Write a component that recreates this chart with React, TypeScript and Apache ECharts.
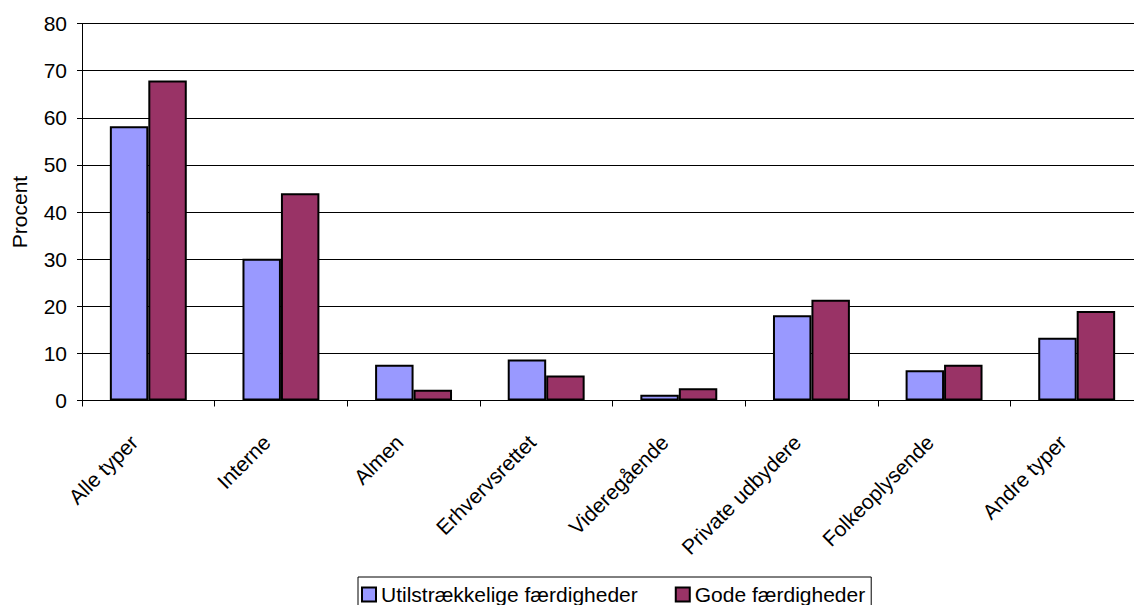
import React, { useEffect, useRef } from "react";
import * as echarts from "echarts";

const categories = [
  "Alle typer",
  "Interne",
  "Almen",
  "Erhvervsrettet",
  "Videregående",
  "Private udbydere",
  "Folkeoplysende",
  "Andre typer",
];
const seriesNames = ["Utilstrækkelige færdigheder", "Gode færdigheder"];
const utilstraekkelige = [58.2, 30.1, 7.6, 8.7, 1.2, 18.1, 6.4, 13.3];
const gode = [67.9, 44.0, 2.3, 5.3, 2.6, 21.4, 7.6, 19.0];
const colors = ["#9999FF", "#993366"];

const FONT = "Liberation Sans, Arial, sans-serif";
const FS = 21;

export default function App() {
  const ref = useRef<HTMLDivElement>(null);
  useEffect(() => {
    if (!ref.current) return;
    const chart = echarts.init(ref.current, null, { renderer: "svg" });
    chart.setOption({
      animation: false,
      backgroundColor: "#ffffff",
      textStyle: { fontFamily: FONT, color: "#000" },
      grid: {
        left: 82,
        right: 17,
        top: 23.5,
        bottom: 204.5,
        containLabel: false,
        outerBoundsMode: "none",
      },
      legend: {
        left: 358,
        top: 577,
        orient: "horizontal",
        borderColor: "#000",
        borderWidth: 1,
        padding: [7, 6, 7, 3],
        itemGap: 37,
        itemWidth: 14,
        itemHeight: 14,
        icon: "rect",
        textStyle: { fontFamily: FONT, fontSize: FS, color: "#000" },
        data: seriesNames,
      },
      xAxis: {
        type: "category",
        data: categories,
        boundaryGap: true,
        axisLine: { show: true, lineStyle: { color: "#000", width: 1 } },
        axisTick: { show: true, length: 6, lineStyle: { color: "#000" } },
        axisLabel: {
          rotate: 45,
          margin: 24,
          padding: [0, 20, 0, 0],
          fontSize: FS,
          fontFamily: FONT,
          color: "#000",
          interval: 0,
        },
        splitLine: { show: false },
      },
      yAxis: {
        type: "value",
        min: 0,
        max: 80,
        interval: 10,
        name: "Procent",
        nameLocation: "middle",
        nameRotate: 90,
        nameGap: 52,
        nameTextStyle: { fontFamily: FONT, fontSize: FS, color: "#000" },
        axisLine: { show: true, lineStyle: { color: "#000", width: 1 } },
        axisTick: { show: true, length: 5, inside: false, lineStyle: { color: "#000" } },
        axisLabel: { fontSize: FS, fontFamily: FONT, color: "#000", margin: 15 },
        splitLine: { show: true, lineStyle: { color: "#000", width: 1 } },
      },
      series: [
        {
          name: seriesNames[0],
          type: "bar",
          data: utilstraekkelige,
          barGap: "0%",
          barCategoryGap: "42%",
          itemStyle: { color: colors[0], borderColor: "#000", borderWidth: 2 },
        },
        {
          name: seriesNames[1],
          type: "bar",
          data: gode,
          barGap: "0%",
          barCategoryGap: "42%",
          itemStyle: { color: colors[1], borderColor: "#000", borderWidth: 2 },
        },
      ],
    });
    return () => chart.dispose();
  }, []);
  return (
    <div
      style={{
        position: "fixed",
        left: 0,
        top: 0,
        width: 1134,
        height: 605,
        overflow: "hidden",
        background: "#fff",
      }}
    >
      <div ref={ref} style={{ width: 1160, height: 605 }} />
    </div>
  );
}
